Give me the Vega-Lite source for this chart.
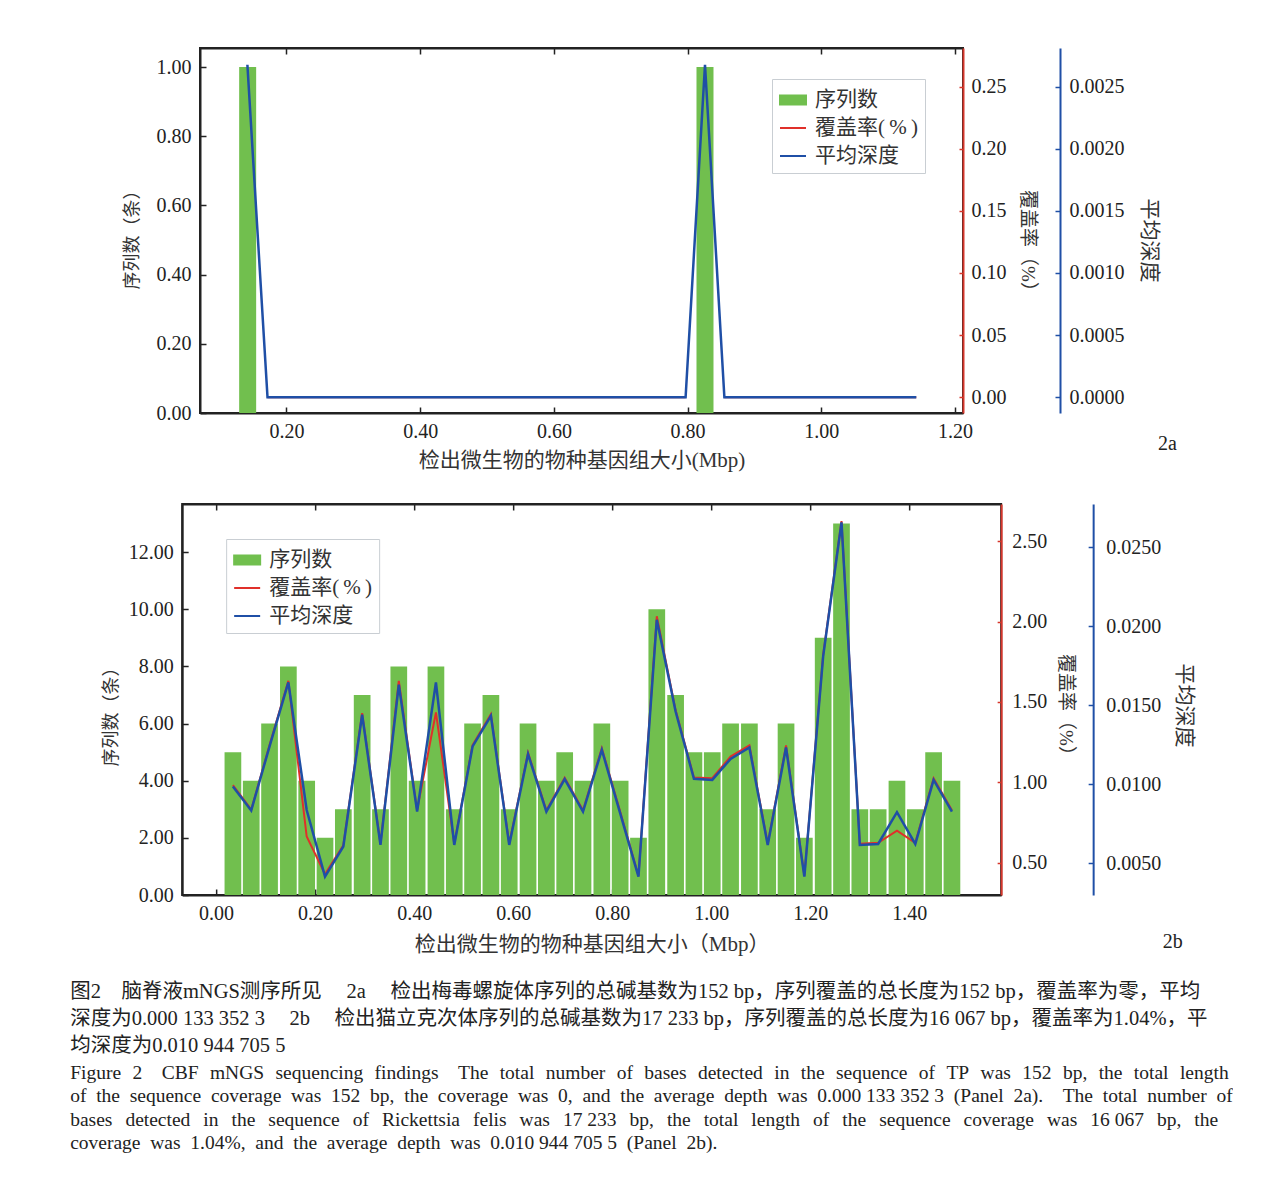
{
  "$schema": "https://vega.github.io/schema/vega-lite/v6.json",
  "background": "white",
  "padding": {"left": 70, "top": 46, "right": 0, "bottom": 0},
  "autosize": {"type": "pad"},
  "config": {
    "view": {"stroke": "#222222", "strokeWidth": 2},
    "axis": {"grid": false, "labelFont": "Liberation Serif", "labelFontSize": 20, "labelColor": "#222222", "titleFont": "Liberation Serif, Noto Sans CJK SC", "titleFontWeight": "normal", "titleColor": "#333333", "labelFlush": false, "labelOverlap": false, "domainColor": "#222222", "domainWidth": 2, "tickColor": "#222222", "tickWidth": 1.5},
    "legend": {"labelFont": "Liberation Serif, Noto Sans CJK SC", "labelFontSize": 21, "labelColor": "#333333"}
  },
  "datasets": {
    "bars2a": [
      {"size": 0.142, "reads": 1},
      {"size": 0.826, "reads": 1}
    ],
    "cov2a": [
      {"size": 0.1717, "coverage": 0, "seg": 1},
      {"size": 0.797, "coverage": 0, "seg": 1},
      {"size": 0.855, "coverage": 0, "seg": 2},
      {"size": 1.142, "coverage": 0, "seg": 2}
    ],
    "depth2a": [
      {"size": 0.1416, "depth": 0.002675},
      {"size": 0.1717, "depth": 0},
      {"size": 0.797, "depth": 0},
      {"size": 0.826, "depth": 0.002675},
      {"size": 0.855, "depth": 0},
      {"size": 1.142, "depth": 0}
    ],
    "data2b": [
      {"size": 0.034, "reads": 5, "coverage": 0.982, "depth": 0.00985},
      {"size": 0.071, "reads": 4, "coverage": 0.829, "depth": 0.00834},
      {"size": 0.108, "reads": 6, "coverage": 1.231, "depth": 0.01239},
      {"size": 0.146, "reads": 8, "coverage": 1.631, "depth": 0.01644},
      {"size": 0.183, "reads": 4, "coverage": 0.662, "depth": 0.00837},
      {"size": 0.220, "reads": 2, "coverage": 0.428, "depth": 0.00416},
      {"size": 0.257, "reads": 3, "coverage": 0.608, "depth": 0.00606},
      {"size": 0.295, "reads": 7, "coverage": 1.430, "depth": 0.01439},
      {"size": 0.332, "reads": 3, "coverage": 0.617, "depth": 0.00616},
      {"size": 0.369, "reads": 8, "coverage": 1.631, "depth": 0.01629},
      {"size": 0.406, "reads": 4, "coverage": 0.826, "depth": 0.00827},
      {"size": 0.444, "reads": 8, "coverage": 1.435, "depth": 0.01644},
      {"size": 0.481, "reads": 3, "coverage": 0.617, "depth": 0.00616},
      {"size": 0.518, "reads": 6, "coverage": 1.231, "depth": 0.01239},
      {"size": 0.555, "reads": 7, "coverage": 1.424, "depth": 0.01432},
      {"size": 0.592, "reads": 3, "coverage": 0.617, "depth": 0.00616},
      {"size": 0.630, "reads": 6, "coverage": 1.184, "depth": 0.01190},
      {"size": 0.667, "reads": 4, "coverage": 0.826, "depth": 0.00827},
      {"size": 0.704, "reads": 5, "coverage": 1.028, "depth": 0.01032},
      {"size": 0.741, "reads": 4, "coverage": 0.826, "depth": 0.00827},
      {"size": 0.779, "reads": 6, "coverage": 1.212, "depth": 0.01217},
      {"size": 0.816, "reads": 4, "coverage": 0.817, "depth": 0.00817},
      {"size": 0.853, "reads": 2, "coverage": 0.418, "depth": 0.00416},
      {"size": 0.890, "reads": 10, "coverage": 2.033, "depth": 0.02040},
      {"size": 0.928, "reads": 7, "coverage": 1.449, "depth": 0.01460},
      {"size": 0.965, "reads": 5, "coverage": 1.030, "depth": 0.01034},
      {"size": 1.002, "reads": 5, "coverage": 1.025, "depth": 0.01027},
      {"size": 1.039, "reads": 6, "coverage": 1.160, "depth": 0.01160},
      {"size": 1.077, "reads": 6, "coverage": 1.229, "depth": 0.01232},
      {"size": 1.114, "reads": 3, "coverage": 0.617, "depth": 0.00616},
      {"size": 1.151, "reads": 6, "coverage": 1.229, "depth": 0.01232},
      {"size": 1.188, "reads": 2, "coverage": 0.418, "depth": 0.00416},
      {"size": 1.226, "reads": 9, "coverage": 1.795, "depth": 0.01810},
      {"size": 1.263, "reads": 13, "coverage": 2.626, "depth": 0.02656},
      {"size": 1.300, "reads": 3, "coverage": 0.617, "depth": 0.00616},
      {"size": 1.337, "reads": 3, "coverage": 0.623, "depth": 0.00622},
      {"size": 1.375, "reads": 4, "coverage": 0.699, "depth": 0.00823},
      {"size": 1.412, "reads": 3, "coverage": 0.623, "depth": 0.00622},
      {"size": 1.449, "reads": 5, "coverage": 1.025, "depth": 0.01027},
      {"size": 1.486, "reads": 4, "coverage": 0.826, "depth": 0.00827}
    ]
  },
  "title": {
    "text": [
      "图2\u2003脑脊液mNGS测序所见\u2003\u20092a\u2003\u2009检出梅毒螺旋体序列的总碱基数为152 bp，序列覆盖的总长度为152 bp，覆盖率为零，平均",
      "深度为0.000 133 352 3\u2003\u20092b\u2003\u2009检出猫立克次体序列的总碱基数为17 233 bp，序列覆盖的总长度为16 067 bp，覆盖率为1.04%，平",
      "均深度为0.010 944 705 5"
    ],
    "subtitle": [
      "Figure\u2002\u200a2\u2003CBF\u2002\u200amNGS\u2002\u200asequencing\u2002\u200afindings\u2003The\u2002\u200atotal\u2002\u200anumber\u2002\u200aof\u2002\u200abases\u2002\u200adetected\u2002\u200ain\u2002\u200athe\u2002\u200asequence\u2002\u200aof\u2002\u200aTP\u2002\u200awas\u2002\u200a152\u2002\u200abp,\u2002\u200athe\u2002\u200atotal\u2002\u200alength",
      "of\u2002the\u2002sequence\u2002coverage\u2002was\u2002152\u2002bp,\u2002the\u2002coverage\u2002was\u20020,\u2002and\u2002the\u2002average\u2002depth\u2002was\u20020.000 133 352 3\u2002(Panel\u20022a).\u2002\u2002The\u2002total\u2002number\u2002of",
      "bases\u2002\u2006detected\u2002\u2006in\u2002\u2006the\u2002\u2006sequence\u2002\u2006of\u2002\u2006Rickettsia\u2002\u2006felis\u2002\u2006was\u2002\u200617 233\u2002\u2006bp,\u2002\u2006the\u2002\u2006total\u2002\u2006length\u2002\u2006of\u2002\u2006the\u2002\u2006sequence\u2002\u2006coverage\u2002\u2006was\u2002\u200616 067\u2002\u2006bp,\u2002\u2006the",
      "coverage\u2002was\u20021.04%,\u2002and\u2002the\u2002average\u2002depth\u2002was\u20020.010 944 705 5\u2002(Panel\u20022b)."
    ],
    "orient": "bottom",
    "anchor": "start",
    "frame": "bounds",
    "dx": -31,
    "offset": 27,
    "font": "Liberation Serif, Noto Sans CJK SC",
    "fontSize": 20.5,
    "fontWeight": "normal",
    "lineHeight": 27,
    "color": "#222222",
    "subtitleFont": "Liberation Serif",
    "subtitleFontSize": 19.5,
    "subtitleLineHeight": 23.5,
    "subtitleColor": "#222222",
    "subtitlePadding": 7
  },
  "spacing": 31,
  "center": true,
  "resolve": {"scale": {"color": "independent"}, "legend": {"color": "independent"}},
  "vconcat": [
    {
      "width": 763,
      "height": 365,
      "title": {"text": "2a", "orient": "bottom", "anchor": "end", "frame": "bounds", "font": "Liberation Serif", "fontSize": 20, "fontWeight": "normal", "color": "#222222", "dx": 18, "dy": -40},
      "layer": [
        {
          "data": {"name": "bars2a"},
          "mark": {"type": "bar", "size": 17},
          "encoding": {
            "x": {"field": "size", "type": "quantitative", "scale": {"domain": [0.0782, 1.2044], "nice": false, "zero": false},
              "axis": {"orient": "bottom", "values": [0.2, 0.4, 0.6, 0.8, 1.0, 1.2], "format": ".2f", "tickSize": -6, "labelPadding": 14, "title": "检出微生物的物种基因组大小(Mbp)", "titleFontSize": 21, "titlePadding": 8}},
            "y": {"field": "reads", "type": "quantitative", "scale": {"domain": [0, 1.055], "nice": false},
              "axis": {"orient": "left", "values": [0, 0.2, 0.4, 0.6, 0.8, 1.0], "format": ".2f", "tickSize": -6, "labelPadding": 15, "title": "序列数（条）", "titleFontSize": 18, "titlePadding": 15, "titleY": 187}},
            "color": {"datum": "序列数", "type": "nominal",
              "scale": {"domain": ["序列数", "覆盖率(%)", "平均深度"], "range": ["#71bf4e", "#e0302a", "#1f4fa6"]},
              "legend": {"title": null, "orient": "none", "legendX": 572, "legendY": 31, "padding": 7, "strokeColor": "#c9ced3", "fillColor": "white", "symbolSize": 676, "rowPadding": 4, "labelOffset": 8,
                "labelExpr": "datum.label === '覆盖率(%)' ? '覆盖率(\u2009%\u2009)' : datum.label",
                "encode": {"symbols": {"update": {
                  "shape": {"signal": "datum.value === '序列数' ? 'M-1,-0.34H1V0.34H-1Z' : 'M-1,0H1'"},
                  "fill": {"signal": "datum.value === '序列数' ? '#71bf4e' : 'transparent'"},
                  "stroke": {"signal": "datum.value === '序列数' ? 'transparent' : (datum.value === '平均深度' ? '#1f4fa6' : '#e0302a')"},
                  "strokeWidth": {"value": 2},
                  "opacity": {"value": 1}
                }}}}}
          }
        },
        {
          "data": {"name": "cov2a"},
          "mark": {"type": "line", "strokeWidth": 2},
          "encoding": {
            "x": {"field": "size", "type": "quantitative", "axis": {"orient": "top", "values": [0.2, 0.4, 0.6, 0.8, 1.0, 1.2], "labels": false, "tickSize": -6, "title": null}},
            "y": {"field": "coverage", "type": "quantitative", "scale": {"domain": [-0.0127, 0.281], "nice": false, "zero": false},
              "axis": {"orient": "right", "values": [0, 0.05, 0.1, 0.15, 0.2, 0.25], "format": ".2f", "domainColor": "#d6362b", "tickColor": "#d6362b", "tickSize": -4, "labelPadding": 12, "title": "覆盖率（%）", "titleFontSize": 19, "titlePadding": 11, "titleY": 197}},
            "detail": {"field": "seg", "type": "nominal"},
            "color": {"datum": "覆盖率(%)", "type": "nominal"}
          }
        },
        {
          "data": {"name": "depth2a"},
          "mark": {"type": "line", "strokeWidth": 2.5},
          "encoding": {
            "x": {"field": "size", "type": "quantitative", "axis": null},
            "y": {"field": "depth", "type": "quantitative", "scale": {"domain": [-0.000127, 0.00281], "nice": false, "zero": false},
              "axis": {"orient": "right", "offset": 97, "values": [0, 0.0005, 0.001, 0.0015, 0.002, 0.0025], "format": ".4f", "domainColor": "#1f4fa6", "tickColor": "#1f4fa6", "tickSize": -5, "labelPadding": 14, "title": "平均深度", "titleFontSize": 21, "titlePadding": 14, "titleY": 192}},
            "color": {"datum": "平均深度", "type": "nominal"}
          }
        }
      ],
      "resolve": {"scale": {"y": "independent"}, "axis": {"x": "independent", "y": "independent"}}
    },
    {
      "width": 819,
      "height": 391,
      "title": {"text": "2b", "orient": "bottom", "anchor": "end", "frame": "bounds", "font": "Liberation Serif", "fontSize": 20, "fontWeight": "normal", "color": "#222222", "dx": -12, "dy": -26},
      "layer": [
        {
          "data": {"name": "data2b"},
          "mark": {"type": "bar", "size": 16.7},
          "encoding": {
            "x": {"field": "size", "type": "quantitative", "scale": {"domain": [-0.0584, 1.5753], "nice": false, "zero": false},
              "axis": {"orient": "bottom", "values": [0, 0.2, 0.4, 0.6, 0.8, 1.0, 1.2, 1.4], "format": ".2f", "tickSize": -6, "labelPadding": 14, "title": "检出微生物的物种基因组大小（Mbp）", "titleFontSize": 21, "titlePadding": 10}},
            "y": {"field": "reads", "type": "quantitative", "scale": {"domain": [0, 13.685], "nice": false},
              "axis": {"orient": "left", "values": [0, 2, 4, 6, 8, 10, 12], "format": ".2f", "tickSize": -6, "labelPadding": 15, "title": "序列数（条）", "titleFontSize": 18, "titlePadding": 8, "titleY": 208}},
            "color": {"datum": "序列数", "type": "nominal",
              "scale": {"domain": ["序列数", "覆盖率(%)", "平均深度"], "range": ["#71bf4e", "#e0302a", "#1f4fa6"]},
              "legend": {"title": null, "orient": "none", "legendX": 44, "legendY": 35, "padding": 7, "strokeColor": "#c9ced3", "fillColor": "white", "symbolSize": 676, "rowPadding": 4, "labelOffset": 8,
                "labelExpr": "datum.label === '覆盖率(%)' ? '覆盖率(\u2009%\u2009)' : datum.label",
                "encode": {"symbols": {"update": {
                  "shape": {"signal": "datum.value === '序列数' ? 'M-1,-0.34H1V0.34H-1Z' : 'M-1,0H1'"},
                  "fill": {"signal": "datum.value === '序列数' ? '#71bf4e' : 'transparent'"},
                  "stroke": {"signal": "datum.value === '序列数' ? 'transparent' : (datum.value === '平均深度' ? '#1f4fa6' : '#e0302a')"},
                  "strokeWidth": {"value": 2},
                  "opacity": {"value": 1}
                }}}}}
          }
        },
        {
          "data": {"name": "data2b"},
          "mark": {"type": "line", "strokeWidth": 2},
          "encoding": {
            "x": {"field": "size", "type": "quantitative", "axis": {"orient": "top", "values": [0, 0.2, 0.4, 0.6, 0.8, 1.0, 1.2, 1.4], "labels": false, "tickSize": -6, "title": null}},
            "y": {"field": "coverage", "type": "quantitative", "scale": {"domain": [0.298, 2.732], "nice": false, "zero": false},
              "axis": {"orient": "right", "values": [0.5, 1.0, 1.5, 2.0, 2.5], "format": ".2f", "domainColor": "#d6362b", "tickColor": "#d6362b", "tickSize": -4, "labelPadding": 14.7, "title": "覆盖率（%）", "titleFontSize": 19, "titlePadding": 9, "titleY": 205}},
            "color": {"datum": "覆盖率(%)", "type": "nominal"}
          }
        },
        {
          "data": {"name": "data2b"},
          "mark": {"type": "line", "strokeWidth": 2.5},
          "encoding": {
            "x": {"field": "size", "type": "quantitative", "axis": null},
            "y": {"field": "depth", "type": "quantitative", "scale": {"domain": [0.002994, 0.02772], "nice": false, "zero": false},
              "axis": {"orient": "right", "offset": 92, "values": [0.005, 0.01, 0.015, 0.02, 0.025], "format": ".4f", "domainColor": "#1f4fa6", "tickColor": "#1f4fa6", "tickSize": -5, "labelPadding": 17.7, "title": "平均深度", "titleFontSize": 21, "titlePadding": 13, "titleY": 201}},
            "color": {"datum": "平均深度", "type": "nominal"}
          }
        }
      ],
      "resolve": {"scale": {"y": "independent"}, "axis": {"x": "independent", "y": "independent"}}
    }
  ]
}
